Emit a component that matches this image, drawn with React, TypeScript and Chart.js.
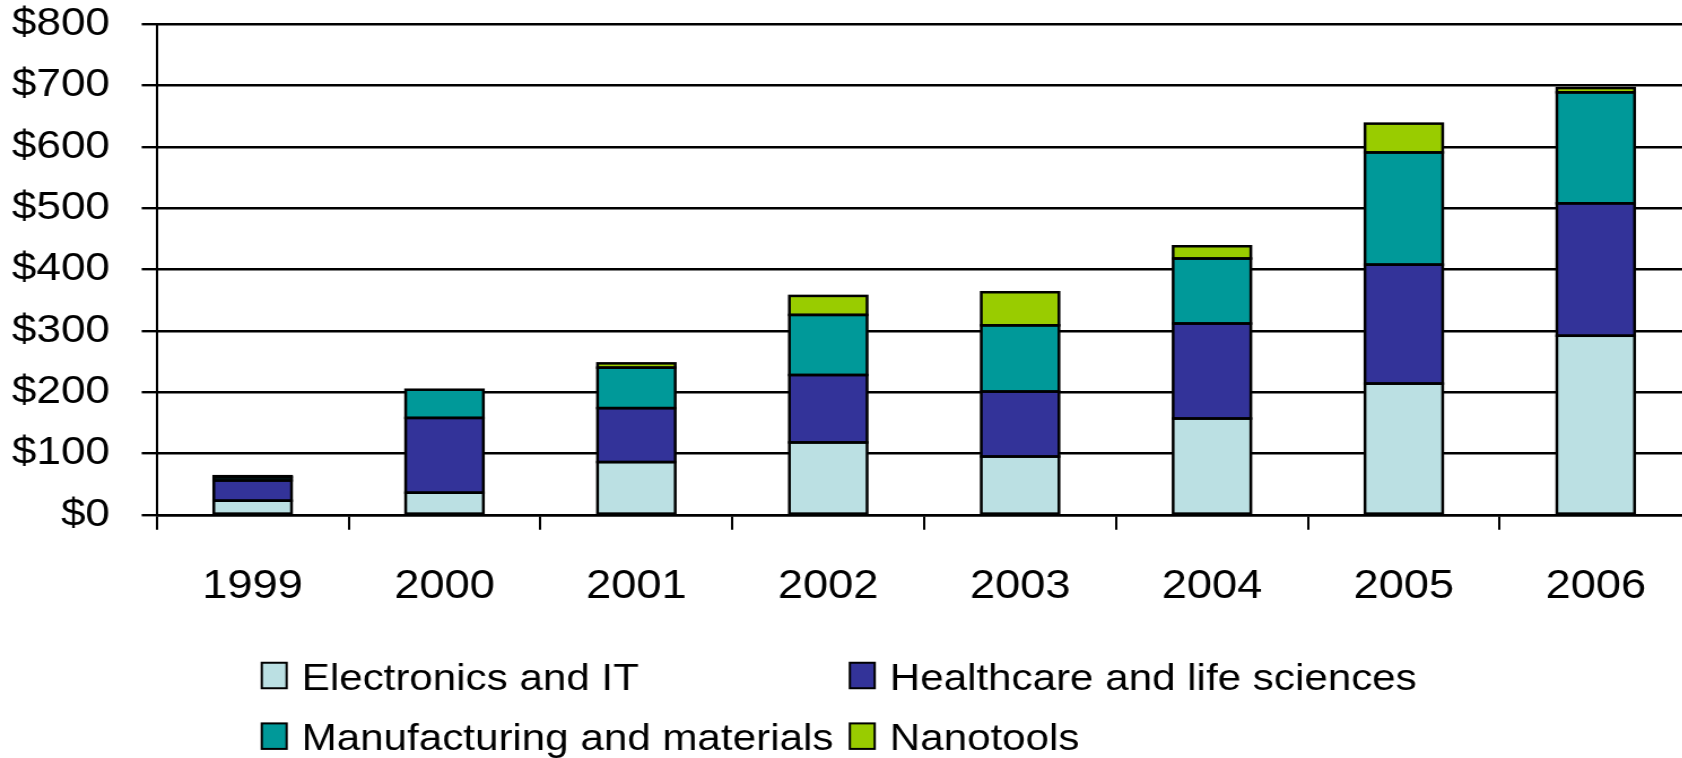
import React, { useEffect, useRef } from "react";
import { Chart, registerables } from "chart.js";

Chart.register(...registerables);

// ---- data ----
const years = ["1999", "2000", "2001", "2002", "2003", "2004", "2005", "2006"];
const electronicsIT = [23, 36, 86, 118, 95, 157, 214, 292];
const healthcareLife = [33, 122, 88, 110, 106, 155, 194, 216];
const manufacturingMaterials = [5, 46, 66, 98, 108, 106, 183, 181];
const nanotools = [2, 0, 7, 31, 54, 20, 47, 7];

const seriesLabels = [
  "Electronics and IT",
  "Healthcare and life sciences",
  "Manufacturing and materials",
  "Nanotools",
];
const seriesColors = ["#BBE0E3", "#333399", "#009999", "#99CC00"];

const yMin = 0;
const yMax = 800;
const yStep = 100;
const currencyPrefix = "$";

// ---- layout ----
const STRETCH = 1.13; // horizontal stretch of the rendered canvas
const CANVAS_W = 1510;
const CANVAS_H = 758;
const FONT = '"Liberation Sans", Arial, sans-serif';
const X_TICK_FONT_SIZE = 40;
const Y_TICK_FONT_SIZE = 39;
const LEGEND_FONT_SIZE = 37.3;
const X_TICK_PAD = 33;
const PLOT_TOP = 24.3;
const BAR_OUTLINE = 2.5;

const LEGEND_COL_X = [231.7, 752.2];
const LEGEND_ROW_Y = [662.75, 723.4];
const LEGEND_BOX_W = 22;
const LEGEND_BOX_H = 25.5;
const LEGEND_TEXT_DX = 35.3;

// Black outline around every stacked segment, traced from the bar elements.
const barOutlines = {
  id: "barOutlines",
  afterDatasetsDraw(chart: any) {
    const ctx = chart.ctx as CanvasRenderingContext2D;
    ctx.save();
    ctx.strokeStyle = "#000";
    ctx.lineWidth = BAR_OUTLINE;
    ctx.lineJoin = "miter";
    chart.data.datasets.forEach((ds: any, di: number) => {
      const meta = chart.getDatasetMeta(di);
      meta.data.forEach((bar: any, i: number) => {
        if (!ds.data[i]) return;
        const { x, y, base, width } = bar.getProps(["x", "y", "base", "width"], true);
        const top = Math.min(y, base);
        const h = Math.abs(base - y);
        ctx.strokeRect(x - width / 2, top, width, h);
      });
    });
    ctx.restore();
  },
};

const gridLegend = {
  id: "gridLegend",
  afterDraw(chart: any) {
    const ctx = chart.ctx as CanvasRenderingContext2D;
    ctx.save();
    ctx.font = `${LEGEND_FONT_SIZE}px ${FONT}`;
    ctx.textBaseline = "alphabetic";
    ctx.textAlign = "left";
    chart.data.datasets.forEach((ds: any, i: number) => {
      const x = LEGEND_COL_X[i % 2];
      const y = LEGEND_ROW_Y[Math.floor(i / 2)];
      ctx.fillStyle = ds.backgroundColor;
      ctx.fillRect(x, y, LEGEND_BOX_W, LEGEND_BOX_H);
      ctx.lineWidth = 2;
      ctx.strokeStyle = "#000";
      ctx.strokeRect(x, y, LEGEND_BOX_W, LEGEND_BOX_H);
      ctx.fillStyle = "#000";
      ctx.fillText(ds.label, x + LEGEND_TEXT_DX, y + LEGEND_BOX_H + 1.5);
    });
    ctx.restore();
  },
};

export default function App() {
  const canvasRef = useRef<HTMLCanvasElement | null>(null);

  useEffect(() => {
    const canvas = canvasRef.current;
    if (!canvas) return;
    const values = [electronicsIT, healthcareLife, manufacturingMaterials, nanotools];

    const chart = new Chart(canvas, {
      type: "bar",
      data: {
        labels: years,
        datasets: values.map((data, i) => ({
          label: seriesLabels[i],
          data,
          backgroundColor: seriesColors[i],
          borderWidth: 0,
          inflateAmount: 0,
          barPercentage: 0.81,
          categoryPercentage: 0.5,
        })),
      },
      options: {
        responsive: false,
        devicePixelRatio: 1,
        animation: false,
        layout: { padding: { left: 0, right: 12.7, top: 0, bottom: 147.2 } },
        plugins: {
          legend: { display: false },
          tooltip: { enabled: false },
        },
        scales: {
          x: {
            stacked: true,
            offset: true,
            grid: {
              display: true,
              offset: true,
              drawOnChartArea: false,
              drawTicks: true,
              tickLength: 15,
              color: "#000",
              lineWidth: 2,
            },
            border: { display: true, color: "#000", width: 2.4 },
            ticks: {
              color: "#000",
              padding: X_TICK_PAD,
              maxRotation: 0,
              autoSkip: false,
              font: { family: FONT, size: X_TICK_FONT_SIZE, lineHeight: 1.2 },
            },
            afterFit(scale: any) {
              scale.height = 15 + X_TICK_PAD + X_TICK_FONT_SIZE * 1.2;
            },
          },
          y: {
            stacked: true,
            min: yMin,
            max: yMax,
            grid: {
              color: "#000",
              lineWidth: 2.4,
              drawTicks: true,
              tickLength: 13.3,
            },
            border: { display: true, color: "#000", width: 2 },
            ticks: {
              stepSize: yStep,
              color: "#000",
              padding: 28.1,
              font: { family: FONT, size: Y_TICK_FONT_SIZE, lineHeight: 1.2 },
              callback: (v: any) => `${currencyPrefix}${v}`,
            },
            afterFit(scale: any) {
              scale.width = 138.7;
              scale.paddingTop = PLOT_TOP;
              scale.paddingBottom = 0;
            },
          },
        },
      },
      plugins: [barOutlines, gridLegend],
    });

    return () => chart.destroy();
  }, []);

  return (
    <div
      style={{
        position: "fixed",
        left: 0,
        top: 0,
        width: "100vw",
        height: "100vh",
        overflow: "hidden",
        background: "#fff",
      }}
    >
      <canvas
        ref={canvasRef}
        width={CANVAS_W}
        height={CANVAS_H}
        style={{
          display: "block",
          width: `${CANVAS_W * STRETCH}px`,
          height: `${CANVAS_H}px`,
        }}
      />
    </div>
  );
}
